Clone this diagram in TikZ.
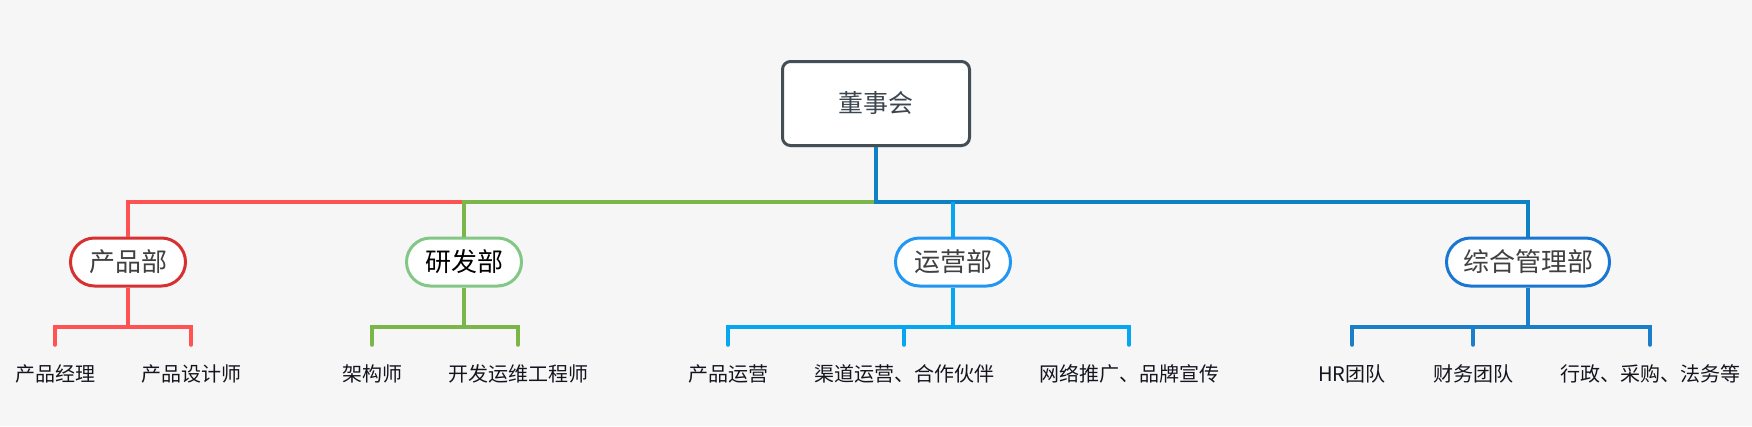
\documentclass[tikz,border=0pt]{standalone}
\usepackage{fontspec}
\setmainfont{Noto Sans CJK SC}
\usetikzlibrary{shadows}
\definecolor{bgc}{HTML}{F6F6F6}
\definecolor{rootb}{HTML}{454D55}
\definecolor{roott}{HTML}{3C4650}
\definecolor{redl}{HTML}{FF5252}
\definecolor{redb}{HTML}{D63031}
\definecolor{greenl}{HTML}{7AB648}
\definecolor{greenb}{HTML}{82C785}
\definecolor{bluel}{HTML}{0E80C4}
\definecolor{opsl}{HTML}{05A8F0}
\definecolor{opsb}{HTML}{2196F3}
\definecolor{mgmtl}{HTML}{1A7FC8}
\definecolor{mgmtb}{HTML}{1976D2}
\definecolor{deptt}{HTML}{404040}
\definecolor{leaft}{HTML}{151520}
\begin{document}
\begin{tikzpicture}[x=1pt,y=-1pt,
  rootbox/.style={draw=rootb,line width=3pt,fill=white,rounded corners=8pt,
    minimum width=187pt,minimum height=84pt,text=roott,
    font=\fontsize{25}{25}\selectfont,
    drop shadow={opacity=0.12,shadow xshift=0pt,shadow yshift=-2pt}},
  deptbox/.style={rectangle,rounded corners=24pt,line width=3pt,fill=white,
    minimum width=115pt,minimum height=48pt,inner xsep=10pt,
    font=\fontsize{26}{26}\selectfont,text=deptt},
  leaf/.style={minimum height=58pt,inner sep=0pt,text=leaft,
    font=\fontsize{20}{20}\selectfont},
  conn/.style={line width=4pt},
  drop/.style={line width=4pt,line cap=round},
]
\fill[bgc] (0,0) rectangle (1752,426);
\useasboundingbox (0,0) rectangle (1752,426);

\node[rootbox] (root) at (876,103.5) {董事会};

\node[deptbox,draw=redb] (d1) at (128,262) {产品部};
\node[deptbox,draw=greenb,text=black] (d2) at (464,262) {研发部};
\node[deptbox,draw=opsb] (d3) at (953,262) {运营部};
\node[deptbox,draw=mgmtb,minimum width=163pt] (d4) at (1528,262) {综合管理部};

\coordinate (j2) at (464,202);
\coordinate (t) at (876,202);
\coordinate (j3) at (953,202);

\draw[conn,redl] (d1.north) |- (j2);
\draw[conn,greenl] (d2.north) -- (j2) -- (t);
\draw[conn,bluel] (root.south) -- (t) -| (d4.north);
\draw[conn,opsl] (j3) -- (d3.north);

% leaves
\node[leaf] (a1) at (55,374) {产品经理};
\node[leaf] (a2) at (191,374) {产品设计师};
\node[leaf] (b1) at (372,374) {架构师};
\node[leaf] (b2) at (518,374) {开发运维工程师};
\node[leaf] (c1) at (728,374) {产品运营};
\node[leaf] (c2) at (904,374) {渠道运营、合作伙伴};
\node[leaf] (c3) at (1129,374) {网络推广、品牌宣传};
\node[leaf] (e1) at (1352,374) {HR团队};
\node[leaf] (e2) at (1473,374) {财务团队};
\node[leaf] (e3) at (1650,374) {行政、采购、法务等};

\coordinate (k1) at (128,327);
\coordinate (k2) at (464,327);
\coordinate (k3) at (953,327);
\coordinate (k4) at (1528,327);

\draw[conn,redl] (d1.south) -- (k1);
\draw[drop,redl] (a1.north) |- (k1) -| (a2.north);
\draw[conn,greenl] (d2.south) -- (k2);
\draw[drop,greenl] (b1.north) |- (k2) -| (b2.north);
\draw[conn,opsl] (d3.south) -- (k3);
\draw[drop,opsl] (c1.north) |- (k3) -| (c3.north);
\draw[drop,opsl] (c2.north) -- (c2.north |- k3);
\draw[conn,mgmtl] (d4.south) -- (k4);
\draw[drop,mgmtl] (e1.north) |- (k4) -| (e3.north);
\draw[drop,mgmtl] (e2.north) -- (e2.north |- k4);
\end{tikzpicture}
\end{document}
